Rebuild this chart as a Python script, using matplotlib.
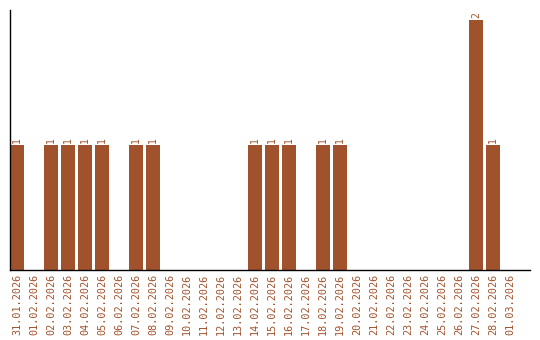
import matplotlib
matplotlib.use('Agg')
import matplotlib.pyplot as plt

# Data
dates = ['31.01.2026', '01.02.2026', '02.02.2026', '03.02.2026', '04.02.2026',
         '05.02.2026', '06.02.2026', '07.02.2026', '08.02.2026', '09.02.2026',
         '10.02.2026', '11.02.2026', '12.02.2026', '13.02.2026', '14.02.2026',
         '15.02.2026', '16.02.2026', '17.02.2026', '18.02.2026', '19.02.2026',
         '20.02.2026', '21.02.2026', '22.02.2026', '23.02.2026', '24.02.2026',
         '25.02.2026', '26.02.2026', '27.02.2026', '28.02.2026', '01.03.2026']
counts = [1, 0, 1, 1, 1, 1, 0, 1, 1, 0,
          0, 0, 0, 0, 1, 1, 1, 0, 1, 1,
          0, 0, 0, 0, 0, 0, 0, 2, 1, 0]

COLOR = '#A0522D'

fig = plt.figure(figsize=(5.4, 3.4), dpi=100)
ax = fig.add_axes([10 / 540, 70 / 340, 520 / 540, 260 / 340])

x = list(range(len(dates)))
ax.bar(x, counts, width=0.82, color=COLOR)

# Value labels above non-empty bars
for xi, c in zip(x, counts):
    if c > 0:
        ax.text(xi, c + 0.02, str(c), rotation=90, ha='center', va='bottom',
                color=COLOR, fontsize=7, family='DejaVu Sans Mono')

ax.set_xlim(-0.41, 30.18)
ax.set_ylim(0, 2.08)
ax.set_xticks(x)
ax.set_xticklabels(dates, rotation=90, color=COLOR, fontsize=7.3,
                   family='DejaVu Sans Mono')
ax.tick_params(axis='x', length=0, pad=3)
ax.set_yticks([])

for side in ['top', 'right']:
    ax.spines[side].set_visible(False)
ax.spines['left'].set_linewidth(1)
ax.spines['bottom'].set_linewidth(1)

fig.savefig('out.png', dpi=100)
